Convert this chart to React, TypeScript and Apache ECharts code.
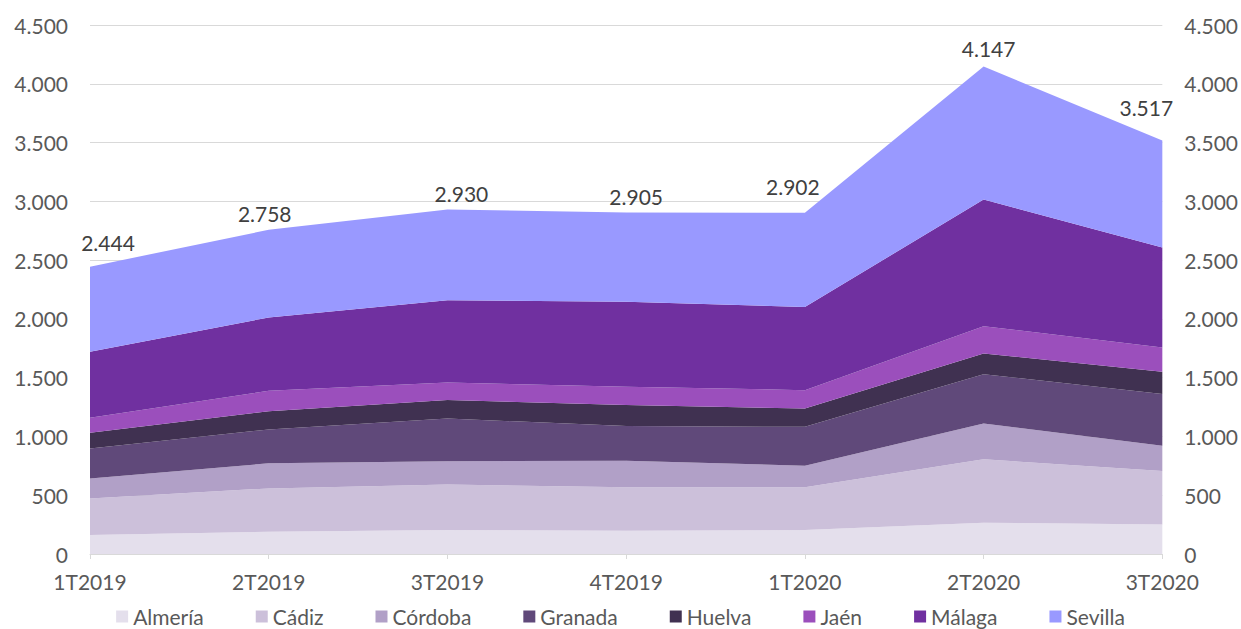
import React, { useEffect, useRef } from "react";
import * as echarts from "echarts";

const categories = ["1T2019", "2T2019", "3T2019", "4T2019", "1T2020", "2T2020", "3T2020"];
const seriesNames = ["Almería", "Cádiz", "Córdoba", "Granada", "Huelva", "Jaén", "Málaga", "Sevilla"];
const almeria = [161, 190, 204, 198, 204, 266, 252];
const cadiz = [312, 368, 388, 369, 363, 539, 454];
const cordoba = [170, 213, 198, 226, 184, 306, 215];
const granada = [255, 289, 363, 295, 331, 419, 439];
const huelva = [133, 155, 156, 179, 156, 176, 190];
const jaen = [128, 173, 150, 155, 156, 232, 207];
const malaga = [561, 624, 700, 723, 708, 1077, 850];
const sevilla = [724, 746, 771, 760, 800, 1132, 910];
const totals = [2444, 2758, 2930, 2905, 2902, 4147, 3517];
const yTicks = [0, 500, 1000, 1500, 2000, 2500, 3000, 3500, 4000, 4500];

const colors = ["#E4DFEC", "#CCC0DA", "#B1A0C7", "#60497A", "#403151", "#9B4FBC", "#7030A0", "#9999FF"];
const labelOffsets = [[18, -14], [-4, -6], [14, -6], [10, -6], [-12, -16], [5, -7], [-16, -23]];

const fmt = (v: number) => {
  const s = String(Math.round(v));
  return s.replace(/\B(?=(\d{3})+(?!\d))/g, ".");
};

const FONT = "Lato, 'Open Sans', sans-serif";
const FS = 21;

export default function App() {
  const ref = useRef<HTMLDivElement>(null);
  useEffect(() => {
    if (!ref.current) return;
    const chart = echarts.init(ref.current, null, { renderer: "svg" });
    const all = [almeria, cadiz, cordoba, granada, huelva, jaen, malaga, sevilla];
    const series = all.map((arr, i) => {
      const isTop = i === all.length - 1;
      return {
        name: seriesNames[i],
        type: "line",
        stack: "total",
        symbol: "circle",
        symbolSize: 0,
        showSymbol: isTop,
        lineStyle: { width: 0 },
        areaStyle: { color: colors[i], opacity: 1 },
        itemStyle: { color: colors[i] },
        label: { show: false },
        data: arr.map((v, j) =>
          isTop
            ? {
                value: v,
                label: {
                  show: true,
                  position: "top",
                  distance: 0,
                  offset: labelOffsets[j],
                  formatter: () => fmt(totals[j]),
                  color: "#404040",
                  fontSize: FS,
                  fontFamily: FONT,
                },
              }
            : v
        ),
      };
    });
    const yAxisBase = {
      type: "value",
      min: 0,
      max: yTicks[yTicks.length - 1],
      interval: 500,
      axisLine: { show: false },
      axisTick: { show: false },
      axisLabel: {
        color: "#595959",
        fontSize: FS,
        fontFamily: FONT,
        margin: 22,
        formatter: (v: number) => fmt(v),
      },
    };
    chart.setOption({
      animation: false,
      backgroundColor: "#ffffff",
      grid: { left: 90, right: 78, top: 25, bottom: 75, containLabel: false },
      legend: {
        data: seriesNames,
        left: "center",
        top: 601,
        itemWidth: 12,
        itemHeight: 12,
        itemGap: 52,
        icon: "rect",
        textStyle: { color: "#595959", fontSize: FS, fontFamily: FONT },
      },
      xAxis: {
        type: "category",
        data: categories,
        boundaryGap: false,
        axisLine: { show: true, lineStyle: { color: "#D9D9D9", width: 1 } },
        axisTick: { show: true, alignWithLabel: true, length: 5, lineStyle: { color: "#D9D9D9" } },
        axisLabel: { color: "#595959", fontSize: FS, fontFamily: FONT, margin: 17 },
        splitLine: { show: false },
      },
      yAxis: [
        {
          ...yAxisBase,
          position: "left",
          splitLine: { show: true, lineStyle: { color: "#D9D9D9", width: 1 } },
        },
        {
          ...yAxisBase,
          position: "right",
          splitLine: { show: false },
        },
      ],
      series,
    });
    return () => chart.dispose();
  }, []);
  return <div ref={ref} style={{ width: 1241, height: 629, position: "absolute", left: 0, top: 0 }} />;
}
